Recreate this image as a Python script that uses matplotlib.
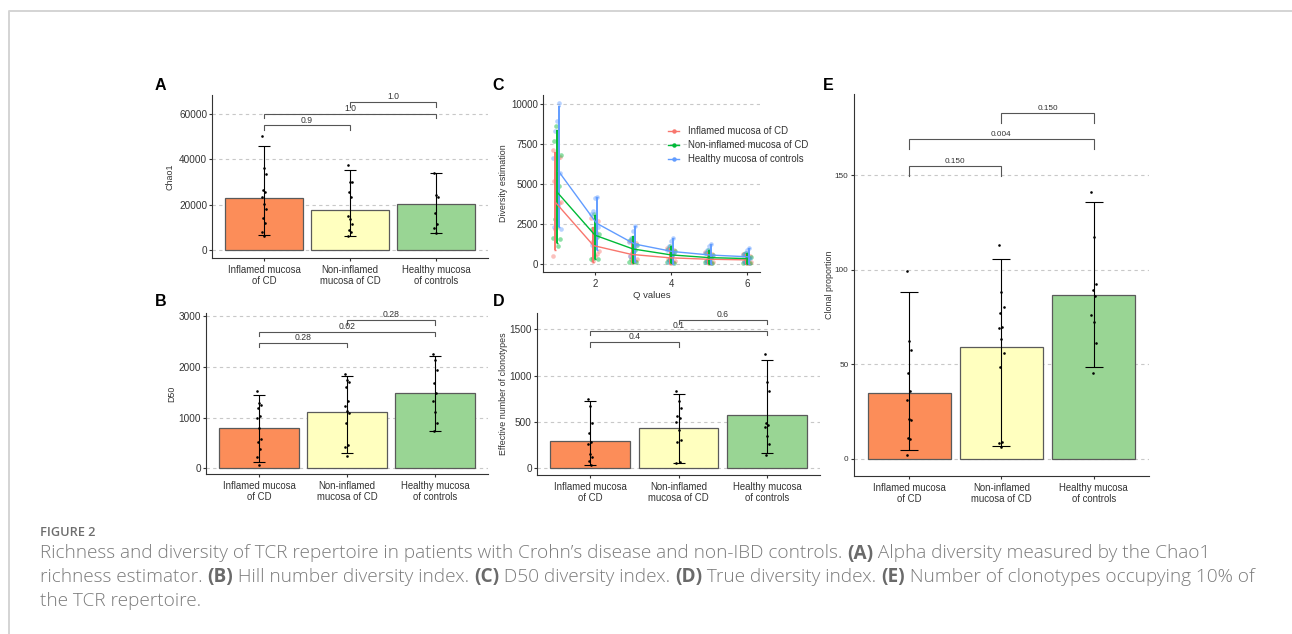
import matplotlib
matplotlib.use("Agg")
import matplotlib.pyplot as plt
import numpy as np
from matplotlib.lines import Line2D

plt.rcParams["font.family"] = ["Liberation Sans", "DejaVu Sans"]

# ---------------- data ----------------
groups = ["Inflamed mucosa\nof CD", "Non-inflamed\nmucosa of CD", "Healthy mucosa\nof controls"]
bar_colors = ["#FC8D59", "#FFFFBF", "#99D594"]

chao1_mean = [22940, 17500, 20150]
chao1_lo = [6480, 6030, 7650]
chao1_hi = [46000, 35100, 33800]
chao1_inf = [50300, 36400, 33400, 26300, 25700, 23600, 20200, 18300, 14100, 11900, 7800, 6300]
chao1_non = [37700, 30100, 29800, 25400, 23600, 14800, 13500, 11600, 8700, 8100, 6000]
chao1_hea = [33900, 24200, 23200, 16400, 11600, 9700, 7500]
chao1_p = ["0.9", "1.0", "1.0"]

d50_mean = [794, 1116, 1490]
d50_lo = [118, 295, 742]
d50_hi = [1438, 1812, 2225]
d50_inf = [1523, 1280, 1247, 1195, 1031, 998, 788, 571, 525, 387, 230, 72]
d50_non = [1858, 1739, 1713, 1602, 1333, 1227, 1123, 1096, 886, 453, 414, 249]
d50_hea = [2258, 2133, 1950, 1687, 1490, 1319, 1110, 899, 729]
d50_p = ["0.28", "0.02", "0.28"]

eff_mean = [295, 432, 572]
eff_lo = [40, 54, 162]
eff_hi = [727, 799, 1173]
eff_inf = [752, 676, 486, 378, 288, 263, 151, 119, 83, 36]
eff_non = [838, 730, 655, 565, 540, 504, 414, 306, 281, 72, 58]
eff_hea = [1237, 935, 838, 493, 468, 450, 353, 266, 144]
eff_p = ["0.4", "0.1", "0.6"]

clonal_mean = [34.6, 58.9, 86.5]
clonal_lo = [4.4, 6.7, 48.4]
clonal_hi = [88.1, 105.5, 136.1]
clonal_inf = [99.4, 62.3, 57.4, 45.2, 36.0, 31.1, 21.0, 20.5, 10.8, 10.4, 1.9]
clonal_non = [113.3, 88.4, 80.1, 77.1, 69.9, 69.4, 63.2, 56.1, 48.4, 9.0, 8.1, 6.4]
clonal_hea = [141.2, 117.2, 92.3, 89.3, 86.3, 76.2, 72.2, 61.2, 45.2]
clonal_p = ["0.150", "0.004", "0.150"]

q_values = [1, 2, 3, 4, 5, 6]
series_names = ["Inflamed mucosa of CD", "Non-inflamed mucosa of CD", "Healthy mucosa of controls"]
series_colors = ["#F8766D", "#00BA38", "#619CFF"]
c_mean_inf = [3850, 1150, 600, 390, 300, 260]
c_mean_non = [4500, 1800, 940, 570, 400, 340]
c_mean_hea = [5800, 2550, 1250, 780, 560, 450]
c_lo_inf = [850, 100, 80, 0, 0, 0]
c_hi_inf = [7000, 2300, 1450, 1000, 750, 620]
c_lo_non = [1300, 300, 80, 50, 0, 0]
c_hi_non = [8350, 3050, 1750, 1100, 850, 700]
c_lo_hea = [2300, 900, 150, 0, 0, 0]
c_hi_hea = [9850, 4200, 2400, 1620, 1230, 970]
c_pts_inf = [[7100, 6700, 6600, 5700, 5200, 3900, 3800, 2300, 2200, 500],
             [2900, 2700, 2000, 1500, 1400, 800, 600, 500, 200],
             [1450, 1300, 1000, 700, 500, 300, 200, 100],
             [1000, 850, 600, 400, 300, 200, 100, 50],
             [750, 600, 450, 300, 200, 150, 80, 40],
             [620, 500, 400, 300, 200, 150, 80, 40]]
c_pts_non = [[8600, 7700, 6800, 4900, 4500, 2800, 1600, 1550, 1150],
             [3150, 2200, 1900, 1700, 1200, 400, 300, 300],
             [1650, 1500, 1200, 900, 600, 300, 150, 100],
             [1100, 950, 800, 600, 400, 250, 100, 60],
             [850, 700, 550, 400, 300, 200, 100, 50],
             [700, 600, 450, 350, 250, 150, 80, 50]]
c_pts_hea = [[10050, 8950, 8300, 6600, 5700, 3600, 2700, 2300, 2200],
             [4200, 4100, 3300, 3100, 2300, 1900, 1500, 1200],
             [2350, 2050, 1650, 1400, 1200, 900, 700, 500],
             [1600, 1450, 1100, 900, 700, 500, 300, 150],
             [1230, 1100, 900, 700, 500, 350, 250, 150],
             [970, 850, 700, 550, 400, 300, 200, 120]]

# ---------------- layout ----------------
W, H = 1292, 634
fig = plt.figure(figsize=(W / 100, H / 100), dpi=100)
fig.patch.set_facecolor("white")


def add_ax(x0, y0, x1, y1):
    return fig.add_axes([x0 / W, 1 - y1 / H, (x1 - x0) / W, (y1 - y0) / H])


AX_COL = "#333333"
TXT_COL = "#333333"
GRID_COL = "#c8c8c8"


def style_axes(ax, yticks, ytick_fs, ylabel, ylabel_px, rect):
    for s in ["top", "right"]:
        ax.spines[s].set_visible(False)
    for s in ["left", "bottom"]:
        ax.spines[s].set_color(AX_COL)
        ax.spines[s].set_linewidth(0.8)
    ax.set_yticks(yticks)
    ax.set_yticklabels([f"{t:g}" for t in yticks])
    ax.tick_params(axis="y", labelsize=ytick_fs, colors=AX_COL, labelcolor=TXT_COL,
                   length=2.2, width=0.8, pad=1.5)
    ax.tick_params(axis="x", colors=AX_COL, labelcolor=TXT_COL, length=2.2, width=0.8, pad=3)
    for t in yticks:
        ax.axhline(t, color=GRID_COL, lw=0.8, ls=(0, (3, 3)), zorder=0)
    ax.set_ylabel(ylabel, fontsize=6.4, color=TXT_COL)
    ax.yaxis.label.set_va("center")
    x0, x1 = rect[0], rect[2]
    ax.yaxis.set_label_coords((ylabel_px - x0) / (x1 - x0), 0.5)
    ax.set_facecolor("none")


def jitter(n, step=0.012):
    return np.array([(((k * 7) % 5) - 2) * step for k in range(n)])


def bar_panel(rect, means, lo, hi, pts, ylim, yticks, pvals, bh, drop, ylabel, ylabel_px,
              ytick_fs=7.2, cap=4.6, pfs=6.2):
    ax = add_ax(*rect)
    x = np.arange(3)
    means = np.array(means, float)
    ax.bar(x, means, width=0.9, color=bar_colors, edgecolor="#5a5a5a", linewidth=0.9, zorder=2)
    ax.errorbar(x, means, yerr=[means - np.array(lo), np.array(hi) - means], fmt="none",
                ecolor="black", elinewidth=0.8, capsize=cap, capthick=0.8, zorder=3)
    for i, p in enumerate(pts):
        ax.scatter(i + jitter(len(p)), p, s=3.5, color="black", lw=0, zorder=4)
    ax.set_xlim(-0.6, 2.6)
    ax.set_ylim(*ylim)
    ax.set_xticks(x)
    ax.set_xticklabels(groups, fontsize=6.9, linespacing=1.1)
    style_axes(ax, yticks, ytick_fs, ylabel, ylabel_px, rect)
    pairs = [(0, 1), (0, 2), (1, 2)]
    for (a, b), lab, h in zip(pairs, pvals, bh):
        ax.plot([a, a, b, b], [h - drop, h, h, h - drop], color="#555555", lw=0.8, zorder=5,
                solid_joinstyle="miter")
        ax.annotate(lab, (0.5 * (a + b), h), xytext=(0, 0.6), textcoords="offset points",
                    ha="center", va="bottom", fontsize=pfs, color=TXT_COL, zorder=6)
    return ax


rectA = (212.4, 95, 487.6, 258)
rectB = (206.2, 313, 487.8, 474)
rectC = (543.3, 95, 760, 271.7)
rectD = (537, 312.7, 820, 475)
rectE = (853.7, 94, 1149, 475.7)

bar_panel(rectA, chao1_mean, chao1_lo, chao1_hi, [chao1_inf, chao1_non, chao1_hea],
          (-3530, 68400), [0, 20000, 40000, 60000], chao1_p, [55000, 60100, 65300], 2000,
          "Chao1", 170)
bar_panel(rectB, d50_mean, d50_lo, d50_hi, [d50_inf, d50_non, d50_hea],
          (-112, 3065), [0, 1000, 2000, 3000], d50_p, [2481, 2698, 2921], 85,
          "D50", 171.5)
bar_panel(rectD, eff_mean, eff_lo, eff_hi, [eff_inf, eff_non, eff_hea],
          (-72, 1679), [0, 500, 1000, 1500], eff_p, [1360, 1482, 1601], 48,
          "Effective number of clonotypes", 503)
bar_panel(rectE, clonal_mean, clonal_lo, clonal_hi, [clonal_inf, clonal_non, clonal_hea],
          (-9, 193.1), [0, 50, 100, 150], clonal_p, [155.1, 169.4, 183.2], 5.2,
          "Clonal proportion", 829, ytick_fs=5.9, cap=6.3, pfs=5.9)

# ---------------- panel C ----------------
axC = add_ax(*rectC)
q = np.array(q_values, float)
means_all = [c_mean_inf, c_mean_non, c_mean_hea]
lo_all = [c_lo_inf, c_lo_non, c_lo_hea]
hi_all = [c_hi_inf, c_hi_non, c_hi_hea]
pts_all = [c_pts_inf, c_pts_non, c_pts_hea]
dodge = [-0.04, 0.0, 0.04]
for g in range(3):
    col = series_colors[g]
    for qi, vals in enumerate(pts_all[g]):
        n = len(vals)
        off = np.array([(((k * 7 + g * 3) % 9) - 4) * 0.028 for k in range(n)])
        axC.scatter(q[qi] + off, vals, s=11, color=col, alpha=0.45, lw=0, zorder=2)
for g in range(3):
    col = series_colors[g]
    m = np.array(means_all[g], float)
    xq = q + dodge[g]
    axC.errorbar(xq, m, yerr=[m - np.array(lo_all[g]), np.array(hi_all[g]) - m], fmt="none",
                 ecolor=col, elinewidth=1.4, capsize=1.0, capthick=1.0, zorder=3)
    axC.plot(xq, m, color=col, lw=1.0, zorder=4)
axC.set_xlim(0.64, 6.34)
axC.set_ylim(-480, 10560)
axC.set_xticks([2, 4, 6])
axC.set_xticklabels(["2", "4", "6"], fontsize=7.0)
style_axes(axC, [0, 2500, 5000, 7500, 10000], 7.0, "Diversity estimation", 503, rectC)
axC.set_xlabel("Q values", fontsize=6.8, color=TXT_COL, labelpad=1.5)
handles = [Line2D([], [], color=c, lw=1.0, marker="o", markersize=2.2) for c in series_colors]
leg = fig.legend(handles, series_names, loc="center left",
                 bbox_to_anchor=(668 / W, 1 - 145.3 / H), frameon=False, fontsize=6.9,
                 handlelength=1.15, handletextpad=0.9, labelspacing=0.42, borderpad=0,
                 borderaxespad=0)
for t in leg.get_texts():
    t.set_color(TXT_COL)

# ---------------- panel letters ----------------
for lab, (px, py) in {"A": (160.5, 85.5), "B": (160.7, 302), "C": (498.3, 85.5),
                      "D": (498.3, 301.5), "E": (828.3, 85.5)}.items():
    fig.text(px / W, 1 - py / H, lab, fontsize=11.5, fontweight="bold", ha="center",
             va="center", color="black")

# ---------------- card border ----------------
fig.add_artist(Line2D([9 / W, 9 / W, 1.0], [0.0, 1 - 11 / H, 1 - 11 / H],
                      transform=fig.transFigure, color="#d4d4d4", lw=1.4))

# ---------------- caption ----------------
CAP_COL = "#7b7b7b"
CAP_FAM = ["Open Sans", "DejaVu Sans"]
fig.text(40 / W, 1 - 533 / H, "FIGURE 2", fontsize=9.2, fontweight="semibold",
         family=CAP_FAM, color="#6e6e6e", ha="left", va="center")

cap_lines = [
    [("Richness and diversity of TCR repertoire in patients with Crohn\u2019s disease and non-IBD controls. ", False),
     ("(A)", True), (" Alpha diversity measured by the Chao1", False)],
    [("richness estimator. ", False), ("(B)", True), (" Hill number diversity index. ", False),
     ("(C)", True), (" D50 diversity index. ", False), ("(D)", True),
     (" True diversity index. ", False), ("(E)", True),
     (" Number of clonotypes occupying 10% of", False)],
    [("the TCR repertoire.", False)],
]
cap_y = [553.5, 577, 601]

renderer = fig.canvas.get_renderer()


def seg_width(text, bold, fs):
    t = fig.text(0, 0, text.replace(" ", "\u00a0"), fontsize=fs, family=CAP_FAM,
                 fontweight="bold" if bold else "light")
    w = t.get_window_extent(renderer).width
    t.remove()
    return w


base_fs = 11.0
w1 = sum(seg_width(s, b, base_fs) for s, b in cap_lines[0])
cap_fs = base_fs * (1209 - 40) / w1

for line, yy in zip(cap_lines, cap_y):
    xx = 40.0
    for s, b in line:
        t = fig.text(xx / W, 1 - yy / H, s.replace(" ", "\u00a0"), fontsize=cap_fs,
                     family=CAP_FAM, fontweight="bold" if b else "light",
                     color="#6a6a6a" if b else CAP_COL, ha="left", va="center")
        xx += t.get_window_extent(renderer).width

fig.savefig("out.png", dpi=100, facecolor="white")
